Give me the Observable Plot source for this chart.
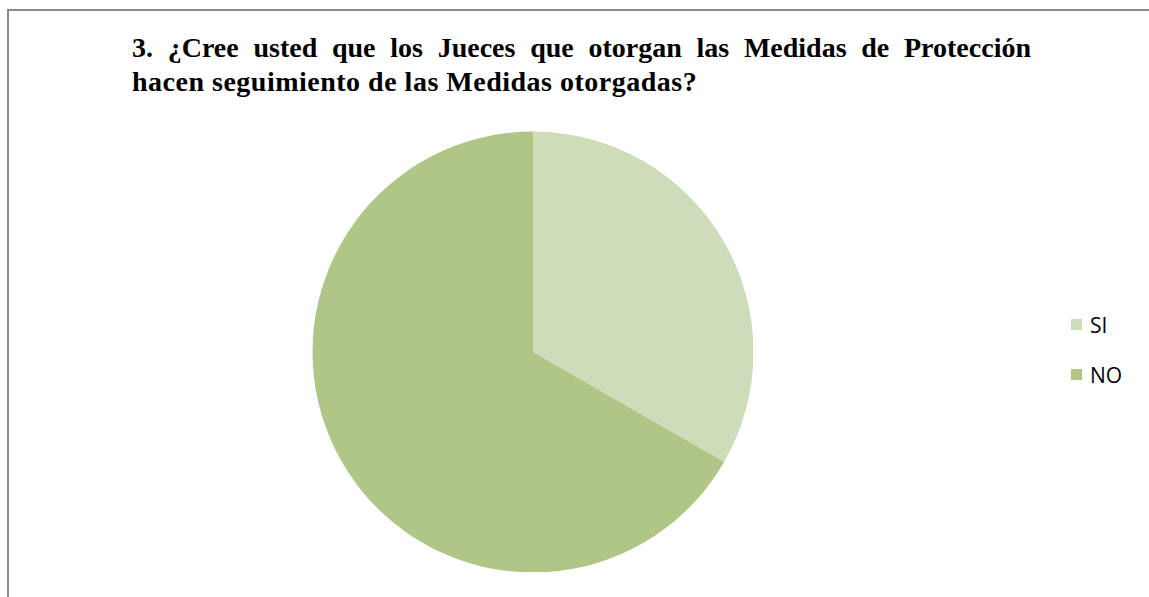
<!DOCTYPE html>
<html>
<head>
<meta charset="utf-8">
<script src="https://cdn.jsdelivr.net/npm/d3@7"></script>
<script src="https://cdn.jsdelivr.net/npm/@observablehq/plot@0.6"></script>
<style>
  html, body { margin: 0; padding: 0; background: #fff; width: 1149px; height: 597px; overflow: hidden; }
  #frame { position: absolute; left: 7px; top: 9px; width: 1200px; height: 700px; border-top: 2px solid #8a8a8a; border-left: 2px solid #8a8a8a; }
  .title { position: absolute; left: 132px; font-family: "Liberation Serif", "Times New Roman", serif; font-weight: bold; font-size: 28px; line-height: 34px; color: #000; white-space: nowrap; letter-spacing: 0.5px; }
  #t1 { top: 31px; width: 899px; text-align: justify; text-align-last: justify; white-space: normal; letter-spacing: 0; }
  #t2 { top: 65px; }
  #chart { position: absolute; left: 312px; top: 131px; }
  .sw { position: absolute; left: 1071px; width: 11px; height: 11px; }
  .lt { position: absolute; left: 1090px; font-family: "Open Sans", Lato, sans-serif; font-size: 21px; line-height: 28px; color: #000; }
</style>
</head>
<body>
<div id="frame"></div>
<div class="title" id="t1"></div>
<div class="title" id="t2"></div>
<div id="chart"></div>
<div id="legend"></div>
<script>
const titleLines = [
  "3. ¿Cree usted que los Jueces que otorgan las Medidas de Protección",
  "hacen seguimiento de las Medidas otorgadas?"
];
const categories = ["SI", "NO"];
const values = [33.3, 66.7];
const colors = ["#cfdcba", "#afc686"];

document.getElementById("t1").textContent = titleLines[0];
document.getElementById("t2").textContent = titleLines[1];

// Pie slices as spherical polygons: north pole = centre, equator = rim.
const arcs = d3.pie().sort(null).value(d => d.value)(categories.map((c, i) => ({label: c, value: values[i]})));
const toLon = a => 180 - a * 180 / Math.PI;
const features = arcs.map(a => {
  const n = Math.max(2, Math.ceil((a.endAngle - a.startAngle) / (Math.PI / 6)));
  const ring = [[0, 90]];
  for (let k = 0; k <= n; k++) {
    const ang = a.startAngle + (a.endAngle - a.startAngle) * k / n;
    ring.push([toLon(ang), 0]);
  }
  ring.push([0, 90]);
  return {type: "Feature", properties: {label: a.data.label}, geometry: {type: "Polygon", coordinates: [ring]}};
});
const fc = {type: "FeatureCollection", features};

const plot = Plot.plot({
  width: 441,
  height: 441,
  margin: 0,
  projection: {type: "azimuthal-equidistant", rotate: [0, -90], domain: fc, inset: 0},
  color: {domain: categories, range: colors},
  marks: [
    Plot.geo(features, {fill: d => d.properties.label})
  ]
});
document.getElementById("chart").appendChild(plot);

const legend = document.getElementById("legend");
const swTops = [319, 369];
categories.forEach((c, i) => {
  const sw = document.createElement("div");
  sw.className = "sw";
  sw.style.top = swTops[i] + "px";
  sw.style.background = colors[i];
  const tx = document.createElement("div");
  tx.className = "lt";
  tx.style.top = (swTops[i] - 8) + "px";
  tx.textContent = c;
  legend.appendChild(sw); legend.appendChild(tx);
});
</script>
</body>
</html>
